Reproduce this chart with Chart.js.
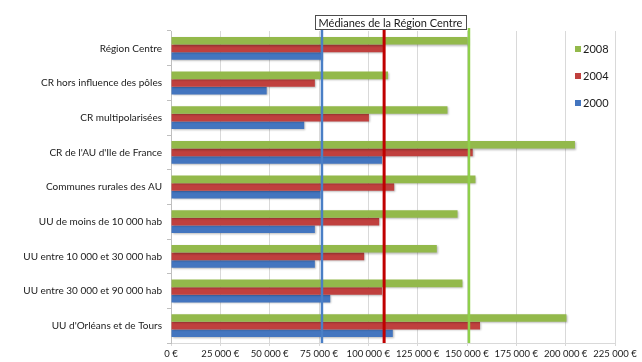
<!DOCTYPE html>
<html>
<head>
<meta charset="utf-8">
<script src="https://cdn.jsdelivr.net/npm/chart.js@4"></script>
<style>
  html, body { margin: 0; padding: 0; background: #ffffff; }
  #wrap { width: 642px; height: 362px; position: relative; }
</style>
</head>
<body>
<div id="wrap"><canvas id="c" width="642" height="362"></canvas></div>
<script>
// Revenus médians par type d'espace (en euros)
const categories = [
  "Région Centre",
  "CR hors influence des pôles",
  "CR multipolarisées",
  "CR de l'AU d'Ile de France",
  "Communes rurales des AU",
  "UU de moins de 10 000 hab",
  "UU entre 10 000 et 30 000 hab",
  "UU entre 30 000 et 90 000 hab",
  "UU d'Orléans et de Tours"
];
const years = ["2008", "2004", "2000"];
const values2008 = [150300, 110000, 140100, 204700, 154300, 145200, 134700, 147700, 200400];
const values2004 = [107400, 72900, 100300, 152900, 113100, 105500, 97900, 106900, 156600];
const values2000 = [76500, 48500, 67500, 106900, 75800, 72900, 72900, 80700, 112400];
// Médianes de la Région Centre : 2000, 2004, 2008
const medianYears = ["2000", "2004", "2008"];
const medians = [76500, 108000, 151000];
const tickLabels = ["0 €", "25 000 €", "50 000 €", "75 000 €", "100 000 €", "125 000 €",
                    "150 000 €", "175 000 €", "200 000 €", "225 000 €"];
const medianTitle = "Médianes de la Région Centre";

const colors = { "2008": "#93b94b", "2004": "#c0403e", "2000": "#4375bf" };
const lineColors = { "2000": "#4a7fc6", "2004": "#c00000", "2008": "#8fd04a" };
const lineWidths = { "2000": 2.5, "2004": 3, "2008": 2.5 };
const FONT = "Lato, 'Open Sans', sans-serif";

const series = { "2008": values2008, "2004": values2004, "2000": values2000 };

// Ombre légère sous les barres
const barShadow = {
  id: "barShadow",
  beforeDatasetsDraw(chart) {
    const ctx = chart.ctx;
    ctx.save();
    ctx.shadowColor = "rgba(0,0,0,0.28)";
    ctx.shadowBlur = 2;
    ctx.shadowOffsetX = 1;
    ctx.shadowOffsetY = 1;
  },
  afterDatasetsDraw(chart) {
    chart.ctx.restore();
  }
};

// Lignes verticales des médianes et cadre de titre
const medianLines = {
  id: "medianLines",
  afterDatasetsDraw(chart) {
    const ctx = chart.ctx;
    const x = chart.scales.x;
    const area = chart.chartArea;
    ctx.save();
    medianYears.forEach((y, i) => {
      const px = x.getPixelForValue(medians[i]);
      ctx.beginPath();
      ctx.strokeStyle = lineColors[y];
      ctx.lineWidth = lineWidths[y];
      ctx.moveTo(px, area.top - 3);
      ctx.lineTo(px, area.bottom);
      ctx.stroke();
    });
    // cadre
    const left = x.getPixelForValue(medians[0]) - 7;
    const right = x.getPixelForValue(medians[2]) - 3;
    const top = 15, h = 14;
    ctx.fillStyle = "#ffffff";
    ctx.fillRect(left, top, right - left, h);
    ctx.strokeStyle = "#4d4d4d";
    ctx.lineWidth = 1;
    ctx.strokeRect(Math.round(left) + 0.5, top + 0.5, Math.round(right - left), h);
    ctx.fillStyle = "#1a1a1a";
    ctx.font = "11px " + FONT;
    ctx.textAlign = "center";
    ctx.textBaseline = "middle";
    ctx.fillText(medianTitle, (left + right) / 2, top + h / 2 + 1);
    ctx.restore();
  }
};

// Légende dans la zone de tracé
const insideLegend = {
  id: "insideLegend",
  afterDraw(chart) {
    const ctx = chart.ctx;
    const area = chart.chartArea;
    ctx.save();
    ctx.font = "11px " + FONT;
    ctx.textBaseline = "middle";
    ctx.textAlign = "left";
    const lx = area.right - 40;
    years.forEach((y, i) => {
      const cy = area.top + 18 + i * 27;
      ctx.fillStyle = colors[y];
      ctx.fillRect(lx, cy - 3, 6, 6);
      ctx.fillStyle = "#1a1a1a";
      ctx.fillText(y, lx + 8, cy + 0.5);
    });
    ctx.restore();
  }
};

new Chart(document.getElementById("c"), {
  type: "bar",
  data: {
    labels: categories,
    datasets: years.map(y => ({
      label: y,
      data: series[y],
      backgroundColor: colors[y],
      borderWidth: 0,
      categoryPercentage: 0.66,
      barPercentage: 1.0
    }))
  },
  options: {
    indexAxis: "y",
    responsive: false,
    animation: false,
    devicePixelRatio: 1,
    layout: { padding: { top: 31, right: 27, left: 0, bottom: 0 } },
    plugins: {
      legend: { display: false },
      tooltip: { enabled: false }
    },
    scales: {
      x: {
        min: 0,
        max: 225000,
        ticks: {
          stepSize: 25000,
          color: "#1a1a1a",
          font: { family: FONT, size: 9.5 },
          padding: 2,
          maxRotation: 0,
          autoSkip: false,
          callback: (v, i) => tickLabels[i]
        },
        grid: { color: "#d9d9d9", tickLength: 3, tickColor: "#d9d9d9" },
        border: { color: "#d9d9d9" },
        afterFit(s) { s.height = 19; }
      },
      y: {
        ticks: {
          color: "#1a1a1a",
          font: { family: FONT, size: 10 },
          padding: 5,
          autoSkip: false
        },
        grid: { drawOnChartArea: false, offset: true, tickLength: 4, color: "#bfbfbf" },
        border: { color: "#bfbfbf" },
        afterFit(s) { s.width = 171; }
      }
    }
  },
  plugins: [barShadow, medianLines, insideLegend]
});
</script>
</body>
</html>
